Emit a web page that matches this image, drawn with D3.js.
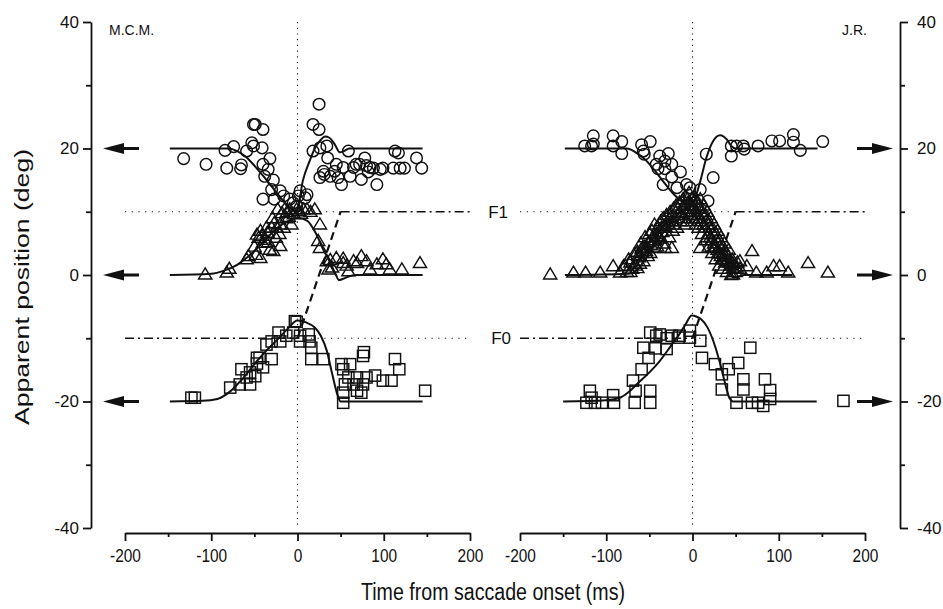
<!DOCTYPE html>
<html>
<head>
<meta charset="utf-8">
<script src="https://cdn.jsdelivr.net/npm/d3@7"></script>
<style>
  body { margin: 0; background: #fff; }
</style>
</head>
<body>
<div id="vis"></div>
<script>
// tick values
const yTicks = [-40, -20, 0, 20, 40];
const yMinor = [-30, -10, 10, 30];
const xTicks = [-200, -100, 0, 100, 200];
const xMinor = [-150, -50, 50, 150];

// target positions (deg) and saccade ramp (ms, deg)
const targetF1 = 10;
const targetF0 = -10;
const saccadeRamp = [[0, -10], [50, 10]];
const arrowLevels = [20, 0, -20];

// M.C.M. -- [time ms, apparent position deg]
const mcmCircles = [[-132,18.4],[-106,17.5],[-84,19.7],[-82,16.9],[-74,20.3],[-66,16.8],[-65,17.4],[-59,19.6],[-53,20.9],
  [-51,23.8],[-49,23.8],[-51,20.4],[-41,20.1],[-40,23],[-32,18.4],[-40,17.5],[-34,16.7],[-38,15.6],[-28,15],[-30,13.5],
  [-40,12],[-20,13.3],[-16,12.5],[-27,12],[-9,12],[3,13.3],[11,12.7],[1,12.5],[-5,11.4],[9,12.2],[-1,10.9],[25,27],
  [18,23.8],[25,23],[18,19.6],[26,20.1],[34,20.4],[35,18.5],[30,16.4],[26,15.4],[31,15.9],[38,15.6],[45,17.5],[43,16.4],
  [47,15.4],[51,14.3],[53,17],[59,19.6],[65,17],[61,15.6],[68,17.5],[72,17.5],[74,15.1],[78,18.5],[80,17.3],[82,16.3],
  [84,17],[88,16.9],[92,14.3],[96,16.7],[99,16.9],[111,16.9],[113,19.6],[117,19.3],[119,16.9],[124,16.9],[138,18.5],[144,16.9]];
const mcmTriangles = [[-107,0.1],[-82,0.4],[-79,1],[-59,2.5],[-57,3],[-47,6.4],[-45,5.9],[-43,2.7],[-43,7],[-40,5.1],
  [-38,5.6],[-36,7.5],[-35,6.7],[-32,4],[-30,7.5],[-29,9],[-25,5.9],[-24,7.5],[-23,10.4],[-20,4.6],[-20,8],[-18,9.8],
  [-16,7.5],[-15,10.4],[-12,10],[-9,10.4],[-7,8],[-1,10.4],[2,10.1],[7,10.4],[11,10.4],[20,10.4],[26,8],[24,5.4],[26,4.3],
  [34,2.2],[36,0.9],[38,2.4],[40,1.2],[45,2.7],[53,1.9],[53,2.6],[57,1.5],[59,0.6],[65,2.2],[69,1.9],[74,3],[80,2.2],
  [84,0.9],[92,1.7],[99,2.5],[103,1.7],[107,0.9],[121,0.9],[142,1.9],
  [-50,4.5],[-41,6.2],[-34,5.2],[-27,8.2],[-21,6.5],[-13,9],[-10,9.2],[-4,9.6],[4,9.7],[15,10],[-28,3.8],[-48,3.2]];
const mcmSquares = [[-123,-19.4],[-119,-19.4],[-78,-17.8],[-67,-17.3],[-65,-14.9],[-59,-16.2],[-55,-15.4],[-55,-17.3],
  [-49,-16],[-47,-13.1],[-47,-14],[-44,-13.1],[-40,-14.6],[-36,-11],[-30,-13.3],[-30,-10.5],[-22,-9.1],[-20,-10.5],
  [-13,-9.6],[-5,-9.1],[-3,-7.3],[-1,-7.4],[3,-9.6],[3,-10.5],[13,-9.4],[14,-10.5],[16,-11.5],[16,-13.3],[30,-13.3],
  [51,-14.1],[53,-14.9],[53,-18.6],[53,-20.2],[55,-17.3],[59,-16.2],[61,-14.1],[65,-17.3],[69,-16.2],[69,-18.3],
  [74,-18.6],[76,-17.3],[76,-12.8],[77,-12.2],[80,-16.2],[90,-15.9],[99,-16.7],[109,-16.7],[113,-13.3],[118,-14.9],[148,-18.3]];

// M.C.M. fitted curves
const mcmCircleFit = [[-148,20],[-80,20],[-70,19.6],[-60,18.7],[-50,17.3],[-40,15.7],[-30,14],[-20,12.3],[-10,10.8],
  [-3,10.1],[0,10.3],[6,14.8],[14,18],[20,20],[26,21.2],[32,21.9],[37,21.7],[43,20.7],[49,19.4],[54,19.6],[60,20],[145,20]];
const mcmTriangleFit = [[-148,0],[-100,0.2],[-85,0.7],[-70,1.6],[-60,2.6],[-50,3.8],[-40,5.2],[-30,6.6],[-20,7.8],
  [-10,8.6],[0,9],[11,8.6],[22,6.4],[30,4],[38,1.9],[44,0.2],[48,-0.8],[53,-0.6],[60,-0.2],[70,0],[145,0]];
const mcmSquareFit = [[-148,-20],[-110,-19.9],[-93,-19.6],[-78,-18.4],[-65,-16.6],[-47,-13.6],[-35,-11.8],[-24,-10.3],
  [-12,-8.6],[0,-7.2],[10,-7.5],[20,-8.3],[27,-9.6],[34,-12],[40,-15.5],[46,-18.8],[50,-20],[145,-20]];

// J.R. -- [time ms, apparent position deg]
const jrCircles = [[-125,20.4],[-115,22],[-115,20.7],[-117,20.4],[-92,22],[-92,20.4],[-82,21.1],[-82,19.2],[-59,20.6],
  [-49,21.1],[-57,19.6],[-56,19.1],[-38,18.8],[-28,19.2],[-42,17.5],[-32,18],[-40,16.8],[-32,16.8],[-24,17.5],[-14,16.3],
  [-24,15.5],[-34,14.3],[-18,13.8],[-7,14.3],[-3,13.8],[9,13.5],[18,11.7],[24,15.4],[16,19.1],[45,20.4],[45,18.8],
  [51,20.4],[59,20.4],[60,19.9],[76,20.4],[92,21.2],[101,21.2],[117,22.2],[117,21],[125,19.7],[151,21.1]];
const jrTriangles = [[-165,0.1],[-138,0.4],[-124,0.4],[-107,0.4],[-92,1.4],[-84,0.4],[-80,1.4],[-72,0.5],[-64,1.1],
  [-64,3.7],[-57,2.2],[-53,4.3],[-43,4.3],[-32,4.3],[-24,4.3],
  [-78,1.5],[-74,2.5],[-70,1],[-68,3.2],[-62,2.8],[-60,5],[-58,3.5],[-56,4.5],[-55,6],[-52,3],[-50,6.5],[-48,4.8],
  [-47,7],[-45,5.5],[-44,8],[-42,6.5],[-41,4.5],[-40,7.5],[-38,5.8],[-37,8.5],[-35,6.8],[-34,9],[-33,5],[-31,7.5],
  [-30,9.5],[-28,8],[-27,6],[-26,10],[-24,8.5],[-23,7],[-22,10.5],[-20,9],[-19,11],[-18,7.5],[-16,9.8],[-15,11.5],
  [-14,8.5],[-12,10.5],[-11,12],[-10,9],[-9,11],[-8,12.5],[-7,10],[-6,8.5],[-5,11.5],[-4,13],[-3,9.5],[-2,10.5],[-1,12],
  [0,11],[1,9],[2,12.5],[3,10],[4,8],[5,11.5],[6,9.5],[7,7.5],[8,10.5],[9,12],[10,8.5],[11,6.5],[12,9.5],[13,11],
  [14,7.5],[15,5.5],[16,8.5],[17,10],[18,6.5],[19,4.5],[20,7.5],[21,9],[22,5.5],[23,3.5],[24,6.5],[25,8],[26,4.5],
  [27,2.5],[28,5.5],[29,7],[30,3.5],[31,1.5],[32,4.5],[33,6],[34,2.5],[35,1],[36,3.5],[37,5],[38,2],[40,0.5],[41,3],
  [42,4],[44,1.5],[45,0],[46,2.5],[48,1],[50,0.5],[52,2],[55,1],
  [9,4.3],[24,4.3],[32,3.4],[40,2.2],[47,1.1],[47,0.1],[55,2.2],[63,1.4],[69,3.8],[74,0.4],[86,0.4],[94,1.4],[101,1.4],
  [111,0.4],[134,1.9],[157,0.4],
  [-76,0.5],[-72,2],[-66,1.5],[-63,3],[-61,1.8],[-59,4.2],[-54,3.8],[-51,5.2],[-49,3.5],[-46,6],[-43,5.5],[-39,6.2],
  [-36,7.5],[-33,7.8],[-29,8.5],[-25,9.2],[-21,8],[-17,10.5],[-13,9.5],[-9,8],[-6,12],[-3,11],
  [1,10.5],[3,12],[5,9],[7,11],[9,9],[11,10],[13,8],[15,9.5],[17,6],[19,8],[21,6],[23,7.5],[25,5],[27,6.5],[29,4],
  [31,5.5],[33,3],[35,4.5],[37,2.5],[39,3.5],[43,2],[47,1.8],[51,1.2]];
const jrSquares = [[-119,-18.3],[-117,-19.4],[-123,-20.2],[-113,-20.2],[-105,-20.2],[-92,-19],[-91,-20.2],[-67,-20.2],
  [-49,-20.2],[-69,-16.7],[-49,-18.3],[-66,-18.3],[-59,-14.9],[-51,-13.1],[-57,-11.5],[-43,-11.6],[-49,-9.1],[-42,-9.6],
  [-38,-9.4],[-30,-11.7],[-30,-10],[-24,-9.6],[-16,-9.9],[-15,-9.6],[-3,-8.8],[-3,-9.9],[9,-10.4],[11,-13.1],[26,-14.1],
  [42,-14.9],[34,-15.7],[34,-18.1],[53,-13.9],[67,-11.5],[59,-16.5],[59,-18.1],[51,-20.2],[69,-20.2],[76,-20.2],
  [82,-20.7],[84,-16.5],[90,-18.2],[90,-19.6],[175,-19.9]];

// J.R. fitted curves
const jrCircleFit = [[-148,20],[-76,20],[-66,19.4],[-56,18.4],[-46,16.9],[-34,14.8],[-22,12.8],[-12,11.6],[-5,11.1],
  [0,11.1],[4,12.5],[9,14.8],[16,18.5],[24,21.2],[32,22.1],[40,21.4],[45,20.4],[50,20],[145,20]];
const jrTriangleFit = [[-148,0],[-75,0.2],[-64,0.8],[-55,2.5],[-45,4.5],[-35,6.5],[-25,8.3],[-15,9.8],[-5,10.8],
  [0,11],[5,10.5],[15,8.3],[25,5.7],[35,3],[42,1],[47,-0.4],[52,-0.3],[60,0],[116,0]];
const jrSquareFit = [[-150,-20],[-100,-19.8],[-84,-19.4],[-74,-18.5],[-64,-17.2],[-50,-15.4],[-38,-13.6],[-25,-11.2],
  [-15,-9.3],[-8,-7.8],[-1,-6.4],[5,-6.6],[10,-7],[17,-8.2],[24,-10.4],[30,-13],[35,-15.6],[40,-18.3],[43,-19.5],
  [47,-20],[144,-20]];

const width = 943, height = 609;
const font = "'Liberation Sans', Arial, Helvetica, sans-serif";
const ink = "#111";

const svg = d3.select("#vis").append("svg")
    .attr("width", width)
    .attr("height", height)
    .style("font-family", font);

const y = d3.scaleLinear().domain([-40, 40]).range([528, 22]);

const panels = [
    {
        name: "M.C.M.", side: "left", axisX: 91,
        x: d3.scaleLinear().domain([-200, 200]).range([125, 470]),
        circles: mcmCircles, triangles: mcmTriangles, squares: mcmSquares,
        fits: [mcmCircleFit, mcmTriangleFit, mcmSquareFit]
    },
    {
        name: "J.R.", side: "right", axisX: 900,
        x: d3.scaleLinear().domain([-200, 200]).range([520, 865]),
        circles: jrCircles, triangles: jrTriangles, squares: jrSquares,
        fits: [jrCircleFit, jrTriangleFit, jrSquareFit]
    }
];

function styleAxis(g, size) {
    g.attr("font-family", font).attr("font-size", size);
    g.selectAll("path, line").attr("stroke", ink).attr("stroke-width", 1.8);
    g.selectAll("text").attr("fill", ink);
}

panels.forEach(p => {
    const x = p.x;
    const g = svg.append("g");

    // y axis (major + minor)
    const yAxis = p.side === "left" ? d3.axisLeft(y) : d3.axisRight(y);
    const yg = g.append("g").attr("transform", `translate(${p.axisX},0)`)
        .call(yAxis.tickValues(yTicks).tickSize(8).tickSizeOuter(0)
            .tickPadding(p.side === "left" ? 4 : 9).tickFormat(d => String(d)));
    styleAxis(yg, 17);
    const ym = g.append("g").attr("transform", `translate(${p.axisX},0)`)
        .call((p.side === "left" ? d3.axisLeft(y) : d3.axisRight(y))
            .tickValues(yMinor).tickSize(5).tickFormat(""));
    ym.select(".domain").remove();
    styleAxis(ym, 17);

    // x axis (major + minor)
    const xg = g.append("g").attr("transform", "translate(0,533)")
        .call(d3.axisBottom(x).tickValues(xTicks).tickSize(8).tickSizeOuter(0)
            .tickPadding(8).tickFormat(d => String(d)));
    styleAxis(xg, 18);
    xg.selectAll("text").attr("transform", "scale(0.86,1)");
    const xm = g.append("g").attr("transform", "translate(0,533)")
        .call(d3.axisBottom(x).tickValues(xMinor).tickSize(4).tickFormat(""));
    xm.select(".domain").remove();
    styleAxis(xm, 18);

    // vertical dotted line at saccade onset
    g.append("line")
        .attr("x1", x(0)).attr("x2", x(0))
        .attr("y1", y(40)).attr("y2", y(-40))
        .attr("stroke", ink).attr("stroke-width", 1.1)
        .attr("stroke-dasharray", "1.2,4.5");

    // target lines
    const dotted = "1.2,5.5", dashDot = "9,4,2,4";
    g.append("line").attr("x1", x(-200)).attr("x2", x(50)).attr("y1", y(targetF1)).attr("y2", y(targetF1))
        .attr("stroke", ink).attr("stroke-width", 1.1).attr("stroke-dasharray", dotted);
    g.append("line").attr("x1", x(50)).attr("x2", x(200)).attr("y1", y(targetF1)).attr("y2", y(targetF1))
        .attr("stroke", ink).attr("stroke-width", 1.6).attr("stroke-dasharray", dashDot);
    g.append("line").attr("x1", x(-200)).attr("x2", x(0)).attr("y1", y(targetF0)).attr("y2", y(targetF0))
        .attr("stroke", ink).attr("stroke-width", 1.6).attr("stroke-dasharray", dashDot);
    g.append("line").attr("x1", x(0)).attr("x2", x(200)).attr("y1", y(targetF0)).attr("y2", y(targetF0))
        .attr("stroke", ink).attr("stroke-width", 1.1).attr("stroke-dasharray", dotted);
    g.append("path")
        .attr("d", d3.line().x(d => x(d[0])).y(d => y(d[1]))(saccadeRamp))
        .attr("fill", "none").attr("stroke", ink).attr("stroke-width", 2.2)
        .attr("stroke-dasharray", "8,5");

    // fitted curves
    const line = d3.line().x(d => x(d[0])).y(d => y(d[1])).curve(d3.curveMonotoneX);
    g.selectAll("path.fit").data(p.fits).join("path")
        .attr("class", "fit")
        .attr("d", line)
        .attr("fill", "none").attr("stroke", ink).attr("stroke-width", 2);

    // markers
    const mk = g.append("g").attr("fill", "none").attr("stroke", ink).attr("stroke-width", 1.45);
    mk.selectAll("circle").data(p.circles).join("circle")
        .attr("cx", d => x(d[0])).attr("cy", d => y(d[1])).attr("r", 5.8);
    mk.selectAll("path.tri").data(p.triangles).join("path")
        .attr("class", "tri")
        .attr("transform", d => `translate(${x(d[0])},${y(d[1])})`)
        .attr("d", "M0,-6.4L6.6,4.6L-6.6,4.6Z");
    mk.selectAll("rect").data(p.squares).join("rect")
        .attr("x", d => x(d[0]) - 5.6).attr("y", d => y(d[1]) - 5.6)
        .attr("width", 11.2).attr("height", 11.2);

    // arrows marking target positions
    const dir = p.side === "left" ? -1 : 1;
    const tipX = p.side === "left" ? p.axisX + 12 : p.axisX - 7;
    g.selectAll("path.arrow").data(arrowLevels).join("path")
        .attr("class", "arrow")
        .attr("d", v => {
            const yy = y(v), base = tipX - dir * 21, tail = tipX - dir * 36;
            return `M${tipX},${yy}L${base},${yy - 5.5}L${base},${yy - 1.6}L${tail},${yy - 1.6}` +
                `L${tail},${yy + 1.6}L${base},${yy + 1.6}L${base},${yy + 5.5}Z`;
        })
        .attr("fill", ink);

    // subject label
    g.append("text")
        .attr("x", p.side === "left" ? 109 : 867)
        .attr("y", 35)
        .attr("text-anchor", p.side === "left" ? "start" : "end")
        .attr("font-size", 14).attr("fill", ink)
        .text(p.name);
});

// F1 / F0 labels between panels
svg.append("text").attr("x", 508).attr("y", y(targetF1) + 6).attr("text-anchor", "end")
    .attr("font-size", 17).attr("fill", ink).text("F1");
svg.append("text").attr("x", 511).attr("y", y(targetF0) + 6).attr("text-anchor", "end")
    .attr("font-size", 17).attr("fill", ink).text("F0");

// axis titles
svg.append("text")
    .attr("x", 493).attr("y", 600)
    .attr("text-anchor", "middle")
    .attr("font-size", 23).attr("fill", ink)
    .attr("textLength", 264).attr("lengthAdjust", "spacingAndGlyphs")
    .text("Time from saccade onset (ms)");

svg.append("text")
    .attr("transform", "translate(29,287) rotate(-90)")
    .attr("text-anchor", "middle")
    .attr("font-size", 21).attr("fill", ink)
    .attr("textLength", 276).attr("lengthAdjust", "spacingAndGlyphs")
    .text("Apparent position (deg)");
</script>
</body>
</html>
